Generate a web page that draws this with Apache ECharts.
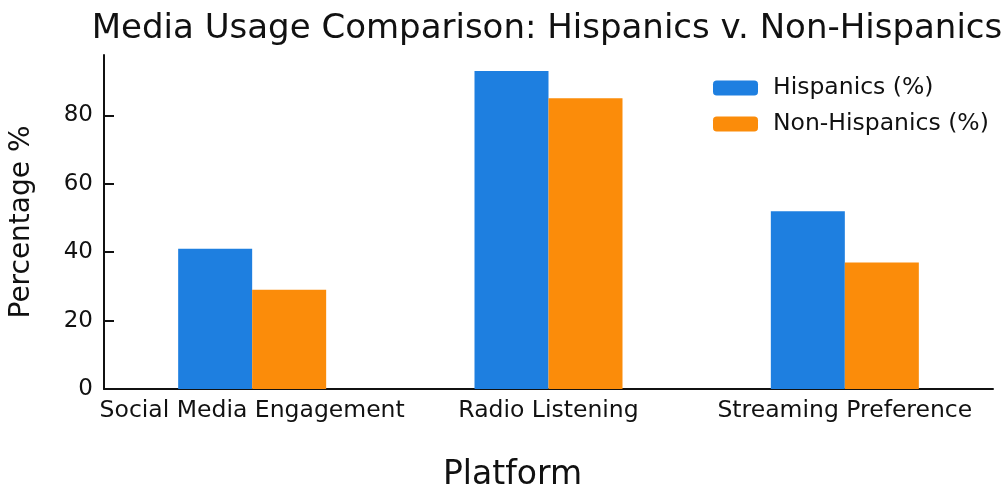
<!DOCTYPE html>
<html>
<head>
<meta charset="utf-8">
<script src="https://cdn.jsdelivr.net/npm/echarts@6/dist/echarts.min.js"></script>
<style>
html,body{margin:0;padding:0;background:#fff}
#main{width:1007px;height:497px}
</style>
</head>
<body>
<div id="main"></div>
<script>
var categories=['Social Media Engagement','Radio Listening','Streaming Preference']
var hispanics=[41,93,52]
var nonHispanics=[29,85,37]
var seriesNames=['Hispanics (%)','Non-Hispanics (%)']

//图表
function drawChar(){
    var myChart=echarts.init(document.getElementById('main'))
    var font='"DejaVu Sans", sans-serif'
    var option={
        color:['#1e7fe0','#fb8c0a'],
        textStyle:{fontFamily:font},
        title:{
            text:'Media Usage Comparison: Hispanics v. Non-Hispanics',
            left:542,top:7,textAlign:'center',
            textStyle:{fontSize:34,fontWeight:'normal',color:'#111',fontFamily:font}
        },
        legend:{
            orient:'vertical',left:708,top:71,
            itemWidth:45,itemHeight:15,itemGap:12,
            textStyle:{fontSize:23.5,color:'#111',fontFamily:font,padding:[0,0,0,10]},
            data:seriesNames
        },
        grid:{left:100,right:14,top:55,bottom:99},
        xAxis:{
            type:'category',data:categories,
            name:'Platform',nameLocation:'middle',nameGap:70,
            nameTextStyle:{fontSize:33,color:'#111',fontFamily:font,padding:[0,72,0,0]},
            axisLine:{lineStyle:{color:'#111',width:2}},
            axisTick:{show:false},
            axisLabel:{fontSize:23.5,color:'#111',margin:10,interval:0,fontFamily:font}
        },
        yAxis:{
            type:'value',min:0,max:97.65,interval:20,
            name:'Percentage %',nameLocation:'middle',nameGap:68,
            nameTextStyle:{fontSize:28,color:'#111',fontFamily:font},
            axisLine:{show:true,lineStyle:{color:'#111',width:2}},
            axisTick:{show:true,inside:true,length:10,lineStyle:{color:'#111',width:2}},
            axisLabel:{fontSize:23,color:'#111',margin:11,fontFamily:font,
                showMaxLabel:false},
            splitLine:{show:false}
        },
        series:[
            {name:seriesNames[0],type:'bar',data:hispanics,barWidth:74,barGap:'0%'},
            {name:seriesNames[1],type:'bar',data:nonHispanics,barWidth:74,barGap:'0%'}
        ]
    }
    myChart.setOption(option)
}
drawChar()
</script>
</body>
</html>
